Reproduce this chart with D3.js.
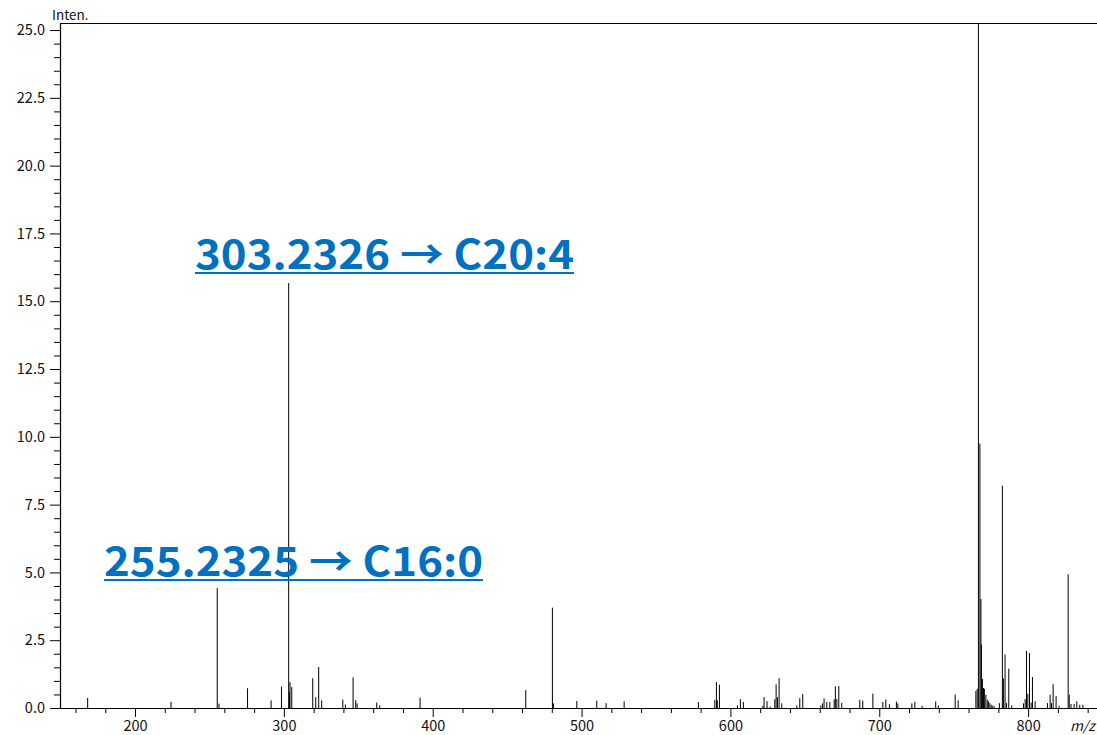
<!DOCTYPE html>
<html>
<head>
<meta charset="utf-8">
<script src="https://cdn.jsdelivr.net/npm/d3@7/dist/d3.min.js"></script>
<style>
  html, body { margin: 0; padding: 0; background: #fff; }
  svg { display: block; }
  .tick-label { font-family: "Noto Sans CJK JP", "Noto Sans", sans-serif; font-size: 14.5px; fill: #111; }
  .anno { font-family: "Noto Sans CJK JP", "Noto Sans", sans-serif; font-weight: 700; font-size: 40px; fill: #0070C0; }
</style>
</head>
<body>
<svg id="chart" width="1097" height="735"></svg>
<script>
// Centroided MS/MS peak list: m/z and intensity
const mz = [
  168.2, 224.2, 255.2325, 256.4, 275.6, 291.4, 298.4, 303.2326, 303.7, 304.1, 305.3,
  319.4, 321.4, 323.4, 325.4, 339.6, 341.3, 346.5, 348.3, 349.2, 362.4, 364.4, 391.5,
  462.5, 480.4, 481.1, 496.8, 510.2, 516.5, 528.6, 578.5, 589.5, 590.6, 591.2, 592.6,
  604.7, 606.7, 608.7, 621.8, 622.6, 624.6, 626.7, 629.8, 630.7, 631.6, 632.7, 634.5,
  644.6, 646.6, 648.6, 660.7, 661.8, 662.9, 664.7, 666.8, 669.7, 670.5, 671.5, 672.8,
  674.8, 686.9, 688.9, 695.7, 702.4, 704.4, 706.8, 711.5, 712.5, 721.9, 723.9, 728.8,
  737.9, 739.7, 751.0, 753.0, 764.9, 765.8, 766.6, 767.6, 768.3, 768.6, 769.3, 770.0,
  770.6, 771.6, 772.5, 773.3, 774.3, 775.2, 776.3, 777.2, 780.7, 782.7, 783.4, 784.5,
  785.5, 787.0, 789.0, 796.9, 798.0, 798.9, 799.8, 800.9, 802.0, 802.9, 804.7, 813.0,
  814.8, 815.7, 816.8, 818.8, 820.8, 826.9, 827.6, 828.8, 830.9, 832.7, 834.7, 836.8
];
const intensity = [
  0.37, 0.23, 4.42, 0.16, 0.73, 0.28, 0.79, 15.67, 0.58, 0.95, 0.77,
  1.10, 0.40, 1.51, 0.28, 0.31, 0.13, 1.13, 0.29, 0.17, 0.20, 0.10, 0.38,
  0.66, 3.70, 0.17, 0.26, 0.27, 0.18, 0.25, 0.22, 0.30, 0.96, 0.28, 0.86,
  0.10, 0.32, 0.22, 0.08, 0.40, 0.25, 0.05, 0.32, 0.87, 0.40, 1.10, 0.17,
  0.09, 0.36, 0.52, 0.09, 0.17, 0.35, 0.22, 0.22, 0.32, 0.80, 0.33, 0.81,
  0.19, 0.30, 0.27, 0.53, 0.22, 0.31, 0.14, 0.24, 0.17, 0.17, 0.23, 0.08,
  0.24, 0.09, 0.50, 0.28, 0.63, 0.71, 100, 9.75, 4.02, 2.34, 1.07, 0.74,
  0.71, 0.49, 0.31, 0.25, 0.18, 0.12, 0.09, 0.06, 0.18, 8.20, 1.09, 1.97,
  0.18, 1.45, 0.10, 0.17, 0.33, 2.11, 0.52, 2.03, 0.20, 1.14, 0.25, 0.18,
  0.49, 0.18, 0.88, 0.44, 0.08, 4.93, 0.49, 0.15, 0.15, 0.25, 0.12, 0.12
];

// Axis ticks
const xMajorTicks = [200, 300, 400, 500, 600, 700, 800];
const yMajorTicks = [0, 2.5, 5, 7.5, 10, 12.5, 15, 17.5, 20, 22.5, 25];

// Annotated fragment ions
const annoMz = [303.2326, 255.2325];
const annoText = ["303.2326 \u2192 C20:4", "255.2325 \u2192 C16:0"];

const svg = d3.select("#chart");
const W = 1097, H = 735;
const plot = { left: 60, right: 1097, top: 23, bottom: 708 };

svg.append("rect").attr("width", W).attr("height", H).attr("fill", "#fff");

const x = d3.scaleLinear().domain([149.6, 845.6]).range([plot.left, plot.right - 1]);
const y = d3.scaleLinear().domain([0, 25.26]).range([plot.bottom, plot.top]);

// Clip peaks to the plotting window
svg.append("clipPath").attr("id", "plot-clip")
  .append("rect")
  .attr("x", plot.left).attr("y", plot.top)
  .attr("width", plot.right - plot.left).attr("height", plot.bottom - plot.top);

const peaks = mz.map((m, i) => ({ m, v: intensity[i] }));

svg.append("g").attr("clip-path", "url(#plot-clip)")
  .selectAll("line").data(peaks).join("line")
  .attr("x1", d => x(d.m)).attr("x2", d => x(d.m))
  .attr("y1", y(0)).attr("y2", d => y(d.v))
  .attr("stroke", "#000").attr("stroke-width", 1);

// Y axis: major ticks every 2.5, minor every 0.5
const yAxis = d3.axisLeft(y).tickValues(yMajorTicks).tickSize(10).tickPadding(5)
  .tickFormat(d3.format(".1f"));
const yMinor = d3.range(0, 25.01, 0.5).filter(v => Math.abs(v / 2.5 - Math.round(v / 2.5)) > 1e-6);
const yAxisMinor = d3.axisLeft(y).tickValues(yMinor).tickSize(6).tickFormat("");

const gy = svg.append("g").attr("transform", `translate(${plot.left},0)`).call(yAxis);
svg.append("g").attr("transform", `translate(${plot.left},0)`).call(yAxisMinor)
  .call(g => g.select(".domain").remove());

// X axis: major ticks every 100, minor every 20
const xAxis = d3.axisBottom(x).tickValues(xMajorTicks).tickSize(9).tickPadding(4)
  .tickFormat(d3.format("d"));
const xMinor = d3.range(160, 846, 20).filter(v => v % 100 !== 0);
const xAxisMinor = d3.axisBottom(x).tickValues(xMinor).tickSize(5).tickFormat("");

const gx = svg.append("g").attr("transform", `translate(0,${plot.bottom})`).call(xAxis);
svg.append("g").attr("transform", `translate(0,${plot.bottom})`).call(xAxisMinor)
  .call(g => g.select(".domain").remove());

[gx, gy].forEach(g => {
  g.select(".domain").remove();
  g.selectAll(".tick text").attr("class", "tick-label").attr("fill", "#111");
});
svg.selectAll(".tick line").attr("stroke", "#000");
gx.selectAll(".tick text").attr("dy", "0.71em");

// Frame: left axis, baseline, top border
svg.append("path")
  .attr("d", `M${plot.right},${plot.top + 0.5}H${plot.left + 0.5}V${plot.bottom + 0.5}H${plot.right}`)
  .attr("fill", "none").attr("stroke", "#000").attr("stroke-width", 1.2);

// Axis titles
svg.append("text").attr("x", 52).attr("y", 20).attr("class", "tick-label")
  .style("font-size", "13.5px").text("Inten.");
svg.append("text").attr("x", 1095).attr("y", 731).attr("class", "tick-label")
  .attr("text-anchor", "end")
  .style("font-style", "italic").style("font-size", "14px").text("m/z");

// Fragment annotations with underline
const annoPos = [
  { x: 195, y: 269 },
  { x: 104, y: 576 }
];
const annoWidth = 379;
annoText.forEach((t, i) => {
  const g = svg.append("g");
  g.append("text").attr("class", "anno")
    .attr("x", annoPos[i].x).attr("y", annoPos[i].y)
    .attr("textLength", annoWidth).attr("lengthAdjust", "spacingAndGlyphs")
    .text(t);
  g.append("line")
    .attr("x1", annoPos[i].x).attr("x2", annoPos[i].x + annoWidth)
    .attr("y1", annoPos[i].y + 4).attr("y2", annoPos[i].y + 4)
    .attr("stroke", "#0070C0").attr("stroke-width", 2.2);
});
</script>
</body>
</html>
